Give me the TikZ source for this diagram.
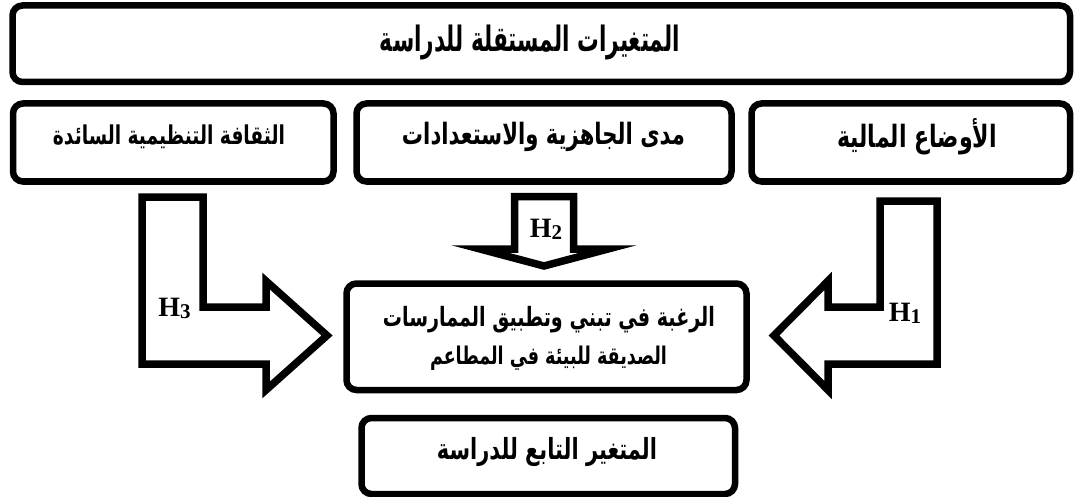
\documentclass[tikz,border=0pt]{standalone}
\usepackage{fontspec}
\usepackage{graphicx}
\setmainfont{Liberation Serif}
\newfontfamily\arabicfont[Script=Arabic,FakeStretch=0.72]{DejaVu Sans}
\newfontfamily\arabictitle[Script=Arabic,FakeStretch=0.62]{DejaVu Sans}
\TeXXeTstate=1
\newcommand{\artext}[2]{\resizebox{#1pt}{!}{\arabicfont\bfseries #2}}
\newcommand{\artitle}[2]{\resizebox{#1pt}{!}{\arabictitle\bfseries #2}}
\newcommand{\hlabel}[1]{\bfseries\fontsize{28}{28}\selectfont H\raisebox{-2pt}{\fontsize{21}{21}\selectfont #1}}
\tikzset{
  box/.style={draw=black, line width=6.5pt, rounded corners=10pt, fill=white, inner sep=0pt},
  txt/.style={inner sep=0pt, text=black},
  blockarrow/.style={draw=black, line width=7.5pt, line join=miter, fill=white},
  hlab/.style={inner sep=0pt, text=black}
}
\begin{document}
\begin{tikzpicture}[x=1pt,y=-1pt]
\useasboundingbox (0,0) rectangle (1075,497);
% boxes
\node[box, minimum width=1057.5pt, minimum height=76.5pt] (topbox) at (541.25,43.75) {};
\node[box, minimum width=320.5pt, minimum height=78pt] (leftbox) at (173.25,142.5) {};
\node[box, minimum width=375pt, minimum height=78pt] (midbox) at (544,142.5) {};
\node[box, minimum width=318.5pt, minimum height=78pt] (rightbox) at (910.75,142.5) {};
\node[box, minimum width=400pt, minimum height=106.5pt] (centbox) at (546.5,336.75) {};
\node[box, minimum width=373.5pt, minimum height=76pt] (botbox) at (548.25,456) {};
% texts
\node[txt] (topT) at (530,42) {\artitle{300}{\beginR المتغيرات المستقلة للدراسة\endR}};
\node[txt] (leftT) at (169,137) {\artext{232}{\beginR الثقافة التنظيمية السائدة\endR}};
\node[txt] (midT) at (543.5,137) {\artext{283}{\beginR مدى الجاهزية والاستعدادات\endR}};
\node[txt] (rightT) at (917,137) {\artext{160}{\beginR الأوضاع المالية\endR}};
\node[txt] (centT1) at (549,320) {\artext{332}{\beginR الرغبة في تبني وتطبيق الممارسات\endR}};
\node[txt] (centT2) at (548.5,358) {\artext{237}{\beginR الصديقة للبيئة في المطاعم\endR}};
\node[txt] (botT) at (547,452) {\artext{220}{\beginR المتغير التابع للدراسة\endR}};
% block arrows
\draw[blockarrow] (142,197) -- (203,197) -- (203,307) -- (266,307) -- (266,281) -- (327,335.5) -- (266,390) -- (266,364) -- (142,364) -- cycle;
\draw[blockarrow] (937,201) -- (880,201) -- (880,307) -- (828,307) -- (828,281) -- (774,335.5) -- (828,390) -- (828,364) -- (937,364) -- cycle;
\draw[blockarrow] (514.5,196.5) -- (573.5,196.5) -- (573.5,249) -- (608,249) -- (544,266) -- (480,249) -- (514.5,249) -- cycle;
% labels
\node[hlab] (h3) at (174.5,308.5) {\hlabel{3}};
\node[hlab] (h1) at (905,313) {\hlabel{1}};
\node[hlab] (h2) at (546,229) {\hlabel{2}};
\end{tikzpicture}
\end{document}
